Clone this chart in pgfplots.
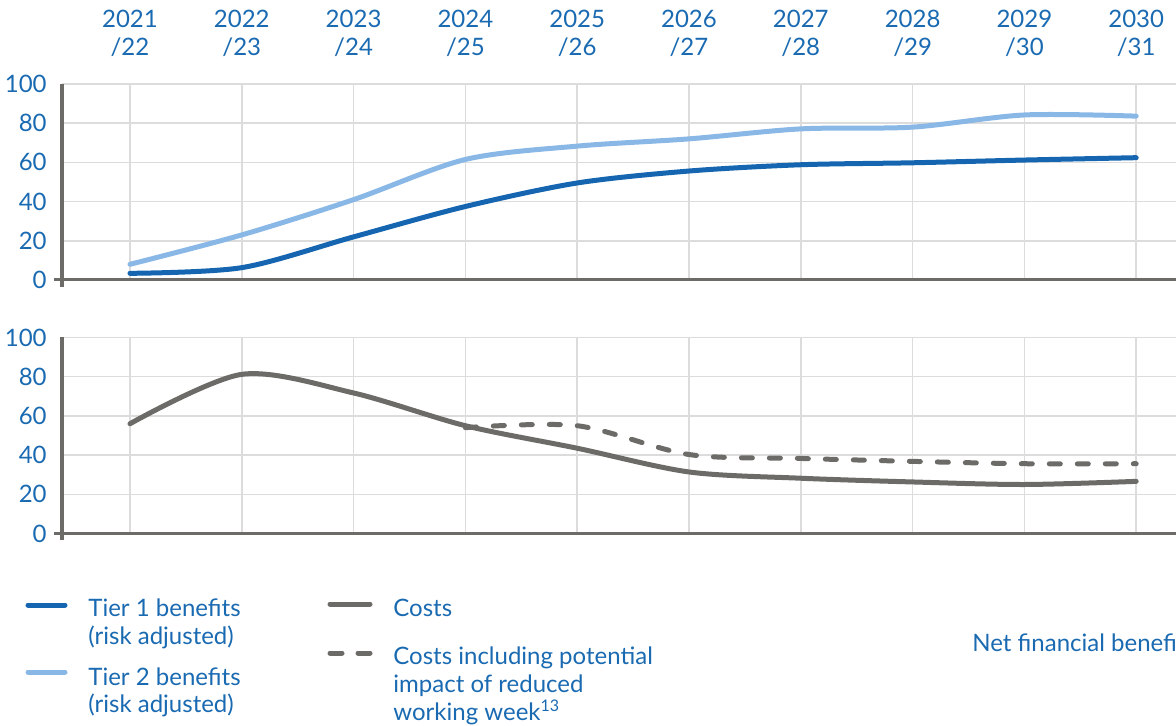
\documentclass[border=0pt]{standalone}
\usepackage{pgfplots}
\pgfplotsset{compat=1.18}
\usepackage{fontspec}
\setmainfont{Lato}
\definecolor{txtblue}{HTML}{1A6AB2}
\definecolor{tierone}{HTML}{1565B0}
\definecolor{tiertwo}{HTML}{8AB8E6}
\definecolor{costgray}{HTML}{6C6B67}
\definecolor{gridgray}{HTML}{DCDCDC}
\newcommand{\lf}{\fontsize{12}{14}\selectfont}
\pgfplotsset{
  base/.style={
    scale only axis, width=557pt, height=98pt,
    xmin=-0.608, xmax=9.356, ymin=0, ymax=100,
    xtick={0,...,9}, ytick={0,20,...,100},
    grid=major, major grid style={gridgray, line width=0.75pt},
    axis line style={draw=none}, tick style={draw=none},
    yticklabel style={anchor=east, inner sep=0pt, xshift=-7.5pt, font=\lf, text=txtblue},
    /pgf/number format/assume math mode=true,
    clip=false,
  },
  ser/.style={line width=2.5pt, smooth, tension=0.5, no markers, line cap=round, line join=round},
}
\begin{document}
\begin{tikzpicture}
\clip (0,0) rectangle (588pt,-363pt);
\useasboundingbox (0,0) rectangle (588pt,-363pt);
% upper axis
\begin{axis}[base, at={(31pt,-140pt)}, anchor=south west,
  xticklabel pos=right,
  xticklabels={{2021\\/22},{2022\\/23},{2023\\/24},{2024\\/25},{2025\\/26},{2026\\/27},{2027\\/28},{2028\\/29},{2029\\/30},{2030\\/31}},
  xticklabel style={align=center, anchor=south, inner sep=0pt, yshift=13.5pt, font=\lf, text=txtblue},
]
\addplot[ser, tiertwo] coordinates {(0,8) (1,23) (2,41) (3,61.5) (4,68.3) (5,72) (6,77.1) (7,78) (8,84.2) (9,83.6)};
\addplot[ser, tierone] coordinates {(0,3.4) (1,6.3) (2,22) (3,37.5) (4,49.5) (5,55.6) (6,58.8) (7,59.8) (8,61.2) (9,62.4)};
\draw[costgray, line width=1.5pt] (axis cs:-0.608,-3.5) -- (axis cs:-0.608,100);
\draw[costgray, line width=1.5pt] (axis cs:-0.68,0) -- (axis cs:9.356,0);
\end{axis}
% lower axis
\begin{axis}[base, at={(31pt,-266.75pt)}, anchor=south west,
  xticklabels={},
]
\addplot[ser, costgray, dash pattern=on 5.5pt off 8.5pt] coordinates {(3,54) (4,55) (5,40.3) (6,38.3) (7,36.8) (8,35.6) (9,35.6)};
\addplot[ser, costgray] coordinates {(0,56) (1,81.2) (2,71.7) (3,55) (4,43.5) (5,31.4) (6,28.2) (7,26.3) (8,25) (9,26.6)};
\draw[costgray, line width=1.5pt] (axis cs:-0.608,-3.5) -- (axis cs:-0.608,100);
\draw[costgray, line width=1.5pt] (axis cs:-0.68,0) -- (axis cs:9.356,0);
\end{axis}
% legend
\begin{scope}[x=0.5pt,y=-0.5pt]
\begin{scope}[line width=2.5pt, line cap=round]
\draw[tierone] (28,605) -- (65,605);
\draw[tiertwo] (28,672) -- (65,672);
\draw[costgray] (330,604) -- (370,604);
\draw[costgray] (330,653) -- (342,653) (358,653) -- (370,653);
\end{scope}
\begin{scope}[every node/.style={anchor=base west, inner sep=0pt, font=\lf, text=txtblue}]
\node at (88,616.5) {Tier 1 benefits};
\node at (88,644.5) {(risk adjusted)};
\node at (88,685) {Tier 2 benefits};
\node at (88,712.5) {(risk adjusted)};
\node at (393,616.5) {Costs};
\node at (393,664.5) {Costs including potential};
\node at (393,692.5) {impact of reduced};
\node at (393,720.5) {working week\textsuperscript{13}};
\node at (972,651) {Net financial benefit};
\end{scope}
\end{scope}
\end{tikzpicture}
\end{document}
